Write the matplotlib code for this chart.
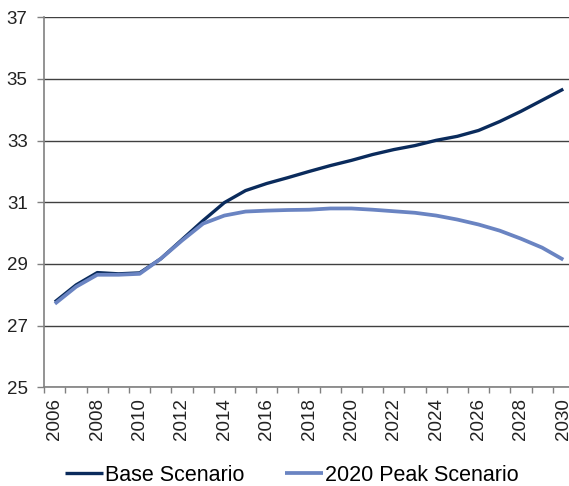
import matplotlib
matplotlib.use("Agg")
import matplotlib.pyplot as plt

years = list(range(2006, 2031))
base = [27.77, 28.32, 28.72, 28.68, 28.71, 29.17, 29.79, 30.41, 30.99, 31.38,
        31.61, 31.80, 32.00, 32.19, 32.36, 32.55, 32.71, 32.84, 33.01, 33.14,
        33.33, 33.62, 33.95, 34.31, 34.67]
peak = [27.71, 28.26, 28.65, 28.65, 28.68, 29.17, 29.76, 30.31, 30.57, 30.70,
        30.73, 30.75, 30.76, 30.80, 30.80, 30.76, 30.71, 30.66, 30.57, 30.44,
        30.28, 30.08, 29.82, 29.53, 29.14]
xticks = list(range(2006, 2031, 2))
yticks = [25, 27, 29, 31, 33, 35, 37]

plt.rcParams['font.family'] = ['Liberation Sans', 'DejaVu Sans']

fig = plt.figure(figsize=(5.69, 4.86), dpi=100)
ax = fig.add_axes([44.3/569, 1 - 387.3/486, 1 - 44.3/569, (387.3 - 17.3)/486])

ax.plot(years, base, color='#0A2B5C', lw=2.4, label='Base Scenario', solid_capstyle='butt', zorder=3)
ax.plot(years, peak, color='#6A84C2', lw=2.7, label='2020 Peak Scenario', solid_capstyle='butt', zorder=3)

ax.set_ylim(25, 37)
ax.set_xlim(2005.5, 2030.27)
ax.set_yticks(yticks)
ax.set_xticks(xticks)
ax.set_xticks([y + 0.5 for y in range(2005, 2030)], minor=True)
ax.set_xticklabels([str(x) for x in xticks], rotation=90)
ax.tick_params(axis='x', which='major', length=0, pad=8, labelsize=13.5, colors='#222222')
ax.tick_params(axis='x', which='minor', length=4, width=1, color='#808080', direction='out')
ax.tick_params(axis='y', length=5, width=1, color='#808080', labelsize=13.5, labelcolor='#222222', pad=7)

ax.grid(axis='y', color='#404040', lw=1, zorder=0)
for s in ['top', 'right']:
    ax.spines[s].set_visible(False)
ax.spines['left'].set_color('#808080')
ax.spines['bottom'].set_color('#808080')
ax.spines['left'].set_linewidth(1.2)
ax.spines['bottom'].set_linewidth(1.2)

fig.legend(loc='center', bbox_to_anchor=(292/569, 1 - 475/486), ncol=2, frameon=False,
           fontsize=15.5, handlelength=1.75, handletextpad=0.1, columnspacing=1.9,
           borderpad=0)

fig.savefig('out.png', dpi=100)
